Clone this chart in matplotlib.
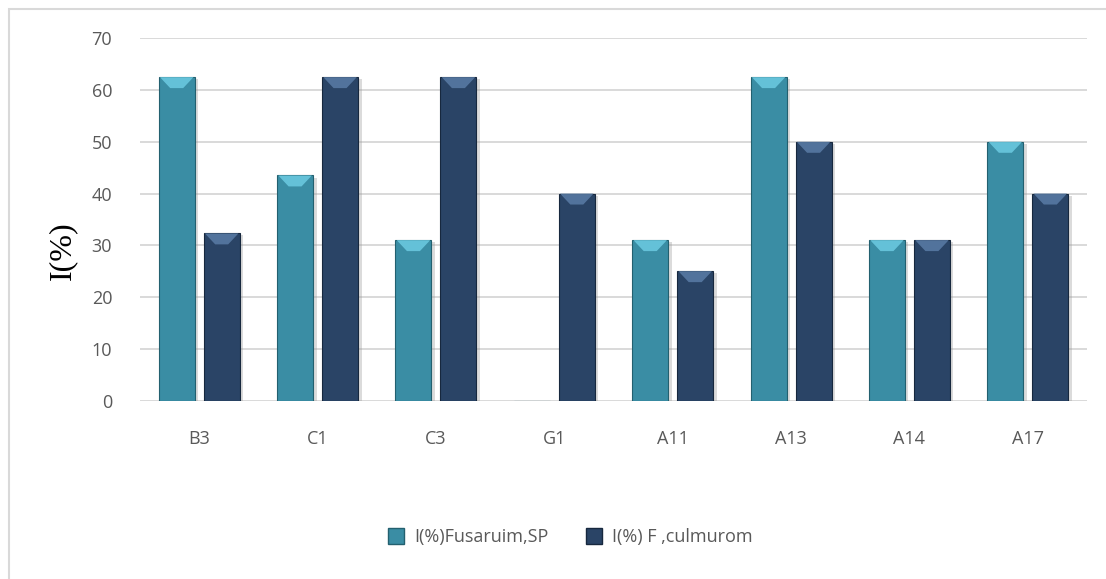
import matplotlib
matplotlib.use("Agg")
import matplotlib.pyplot as plt
from matplotlib.patches import Polygon, Rectangle
from matplotlib.lines import Line2D
import matplotlib.patheffects as pe
import numpy as np

categories = ["B3", "C1", "C3", "G1", "A11", "A13", "A14", "A17"]
fusarium = [62.5, 43.5, 31, 0, 31, 62.5, 31, 50]
culmorum = [32.3, 62.5, 62.5, 40, 25, 50, 31, 40]
series_names = ["I(%)Fusaruim,SP", "I(%) F ,culmurom"]
yticks = [0, 10, 20, 30, 40, 50, 60, 70]

col_fus = "#3A8DA4"
col_fus_edge = "#23606F"
col_fus_bevel = "#6CCBE2"
col_cul = "#2A4466"
col_cul_edge = "#17283E"
col_cul_bevel = "#5A7CA6"

tick_font = "Open Sans"

fig = plt.figure(figsize=(11.06, 5.79), dpi=100)
ax = fig.add_axes([140/1106, 1-400.5/579, (1087-140)/1106, (400.5-38.3)/579])

x = np.arange(len(categories))
w = 0.304
off = 0.19
shadow = [pe.SimplePatchShadow(offset=(2.5, -1.5), shadow_rgbFace="#999999", alpha=0.35), pe.Normal()]
b1 = ax.bar(x - off, fusarium, w, color=col_fus, edgecolor=col_fus_edge, linewidth=0.8, zorder=3)
b2 = ax.bar(x + off, culmorum, w, color=col_cul, edgecolor=col_cul_edge, linewidth=0.8, zorder=3)
for bars in (b1, b2):
    for r in bars:
        r.set_path_effects(shadow)

# bevel at top of each bar, derived from bar geometry
px_per_unit = (400.5 - 38.3) / 70.0
depth = 11.0 / px_per_unit
for bars, bc in ((b1, col_fus_bevel), (b2, col_cul_bevel)):
    for r in bars:
        h = r.get_height()
        if h <= 0:
            continue
        x0, bw = r.get_x(), r.get_width()
        poly = Polygon([(x0 + 0.01, h), (x0 + bw - 0.01, h),
                        (x0 + bw * 0.68, h - depth), (x0 + bw * 0.32, h - depth)],
                       closed=True, facecolor=bc, edgecolor="none", zorder=4, alpha=0.85)
        ax.add_patch(poly)

ax.set_ylim(0, 70)
ax.set_xlim(-0.5, len(categories) - 0.5)
ax.set_yticks(yticks)
ax.set_xticks(x)
ax.set_xticklabels(categories)
ax.yaxis.grid(True, color="#D9D9D9", linewidth=1.4, zorder=0)
ax.set_axisbelow(True)
for s in ax.spines.values():
    s.set_visible(False)
ax.tick_params(axis="both", length=0, labelsize=13, labelcolor="#595959")
ax.tick_params(axis="x", pad=21)
ax.tick_params(axis="y", pad=20)
for lbl in ax.get_xticklabels() + ax.get_yticklabels():
    lbl.set_fontfamily(tick_font)

fig.text(63/1106, 1-251/579, "I(%)", rotation=90, ha="center", va="center",
         fontsize=23, family="Liberation Serif", color="black")

# outer border
fig.add_artist(Rectangle((9/1106, -0.2), 1.2, 1.2 - 9/579, transform=fig.transFigure,
                         fill=False, edgecolor="#D9D9D9", linewidth=1.5))

handles = [Line2D([], [], marker="s", linestyle="none", markersize=11, markerfacecolor=col_fus,
                  markeredgecolor=col_fus_edge),
           Line2D([], [], marker="s", linestyle="none", markersize=11, markerfacecolor=col_cul,
                  markeredgecolor=col_cul_edge)]
fig.legend(handles, series_names, loc="center", bbox_to_anchor=(570/1106, 1-537/579),
           ncol=2, frameon=False, handletextpad=0.5, handlelength=1.0, columnspacing=2.0,
           prop={"family": tick_font, "size": 13}, labelcolor="#595959")

fig.savefig("out.png", dpi=100)
